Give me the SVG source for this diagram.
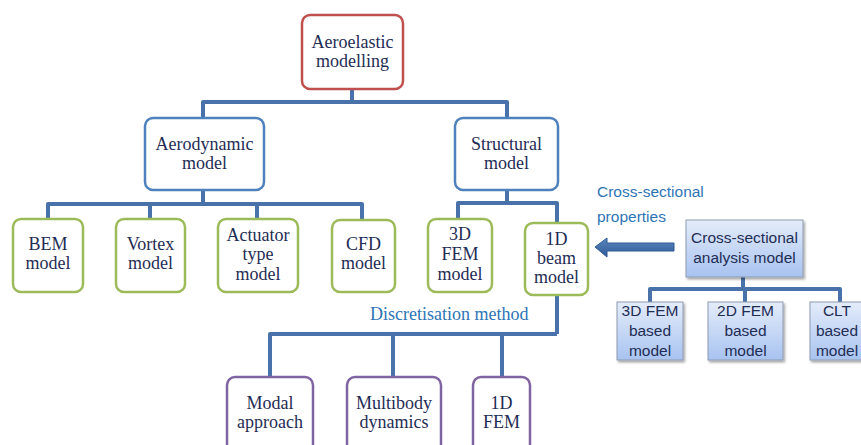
<svg xmlns="http://www.w3.org/2000/svg" width="861" height="445" viewBox="0 0 861 445">
<defs>
<linearGradient id="bg" x1="0" y1="0" x2="0" y2="1">
<stop offset="0" stop-color="#e4ecfa"/>
<stop offset="1" stop-color="#a8c3f0"/>
</linearGradient>
<linearGradient id="ag" x1="0" y1="0" x2="0" y2="1">
<stop offset="0" stop-color="#5b86bf"/>
<stop offset="1" stop-color="#2f5a94"/>
</linearGradient>
<filter id="sh" x="-10%" y="-10%" width="130%" height="130%">
<feDropShadow dx="1.5" dy="2" stdDeviation="1.2" flood-color="#000" flood-opacity="0.35"/>
</filter>
</defs>
<style>
.n{fill:#fff;stroke-width:2.5}
.red{stroke:#c0504d}
.blu{stroke:#4f81bd}
.grn{stroke:#9bbb59}
.pur{stroke:#8064a2}
.t{font-family:"Liberation Serif","Times New Roman",serif;font-size:18px;fill:#1f2d55;text-anchor:middle}
.s{font-family:"Liberation Sans",Arial,sans-serif;font-size:15.5px;fill:#1f2d55;text-anchor:middle}
.sb{fill:url(#bg);stroke:#8f9bb0;stroke-width:1;filter:url(#sh)}
.c{fill:none;stroke:#4a72aa;stroke-width:4;stroke-linejoin:round}
.lab{font-family:"Liberation Sans",Arial,sans-serif;font-size:15.5px;fill:#2e75b6}
.lab2{font-family:"Liberation Serif","Times New Roman",serif;font-size:18px;fill:#2e75b6}
</style>
<g id="connectors">
<path class="c" d="M352 90V102M203 118V102H507V118"/>
<path class="c" d="M203 190V204M48 219V204H362V220M150 204V219M257 204V219"/>
<path class="c" d="M507 190V203M458 219V203H557V223"/>
<path class="c" d="M557 295V334M270 377V334H557M393 334V377M502 334V377"/>
<path class="c" d="M743 277V289M650 302V289H840V302M745 289V302"/>
<path d="M674 243H607V238L595 247L607 257V251H674Z" fill="url(#ag)" stroke="#2f5a94" stroke-width="1"/>
</g>
<g id="n-aeroelastic"><rect class="n red" x="302" y="15" width="101" height="74" rx="8"/><text class="t" x="352.5" y="48">Aeroelastic</text><text class="t" x="352.5" y="67">modelling</text></g>
<g id="n-aerodynamic"><rect class="n blu" x="145" y="118" width="119" height="72" rx="8"/><text class="t" x="204.5" y="150">Aerodynamic</text><text class="t" x="204.5" y="169">model</text></g>
<g id="n-structural"><rect class="n blu" x="455" y="118" width="103" height="72" rx="8"/><text class="t" x="506.5" y="150">Structural</text><text class="t" x="506.5" y="169">model</text></g>
<g id="n-bem"><rect class="n grn" x="13" y="219" width="70" height="73" rx="8"/><text class="t" x="48" y="250">BEM</text><text class="t" x="48" y="269">model</text></g>
<g id="n-vortex"><rect class="n grn" x="116" y="219" width="69" height="73" rx="8"/><text class="t" x="150.5" y="250">Vortex</text><text class="t" x="150.5" y="269">model</text></g>
<g id="n-actuator"><rect class="n grn" x="218" y="219" width="80" height="73" rx="8"/><text class="t" x="258" y="241">Actuator</text><text class="t" x="258" y="260">type</text><text class="t" x="258" y="280">model</text></g>
<g id="n-cfd"><rect class="n grn" x="332" y="220" width="63" height="72" rx="8"/><text class="t" x="363.5" y="250">CFD</text><text class="t" x="363.5" y="269">model</text></g>
<g id="n-3dfem"><rect class="n grn" x="428" y="219" width="64" height="73" rx="8"/><text class="t" x="460" y="240">3D</text><text class="t" x="460" y="260">FEM</text><text class="t" x="460" y="280">model</text></g>
<g id="n-1dbeam"><rect class="n grn" x="525" y="223" width="63" height="72" rx="8"/><text class="t" x="556.5" y="245">1D</text><text class="t" x="556.5" y="264">beam</text><text class="t" x="556.5" y="283">model</text></g>
<g id="n-modal"><rect class="n pur" x="227" y="377" width="86" height="80" rx="8"/><text class="t" x="270" y="409">Modal</text><text class="t" x="270" y="428">approach</text></g>
<g id="n-multibody"><rect class="n pur" x="347" y="377" width="94" height="80" rx="8"/><text class="t" x="394" y="409">Multibody</text><text class="t" x="394" y="428">dynamics</text></g>
<g id="n-1dfem"><rect class="n pur" x="473" y="377" width="57" height="80" rx="8"/><text class="t" x="501.5" y="409">1D</text><text class="t" x="501.5" y="428">FEM</text></g>
<g id="labels">
<text class="lab" x="597" y="197">Cross-sectional</text>
<text class="lab" x="597" y="222">properties</text>
<text class="lab2" x="370" y="320">Discretisation method</text>
</g>
<g id="n-csa"><rect class="sb" x="686" y="220" width="117" height="57"/><text class="s" x="744.5" y="243">Cross-sectional</text><text class="s" x="744.5" y="263">analysis model</text></g>
<g id="n-3dfemb"><rect class="sb" x="617" y="302" width="66" height="58"/><text class="s" x="650" y="316">3D FEM</text><text class="s" x="650" y="336">based</text><text class="s" x="650" y="356">model</text></g>
<g id="n-2dfemb"><rect class="sb" x="708" y="302" width="75" height="58"/><text class="s" x="745.5" y="316">2D FEM</text><text class="s" x="745.5" y="336">based</text><text class="s" x="745.5" y="356">model</text></g>
<g id="n-cltb"><rect class="sb" x="810" y="302" width="75" height="58"/><text class="s" x="837" y="316">CLT</text><text class="s" x="837" y="336">based</text><text class="s" x="837" y="356">model</text></g>
</svg>
